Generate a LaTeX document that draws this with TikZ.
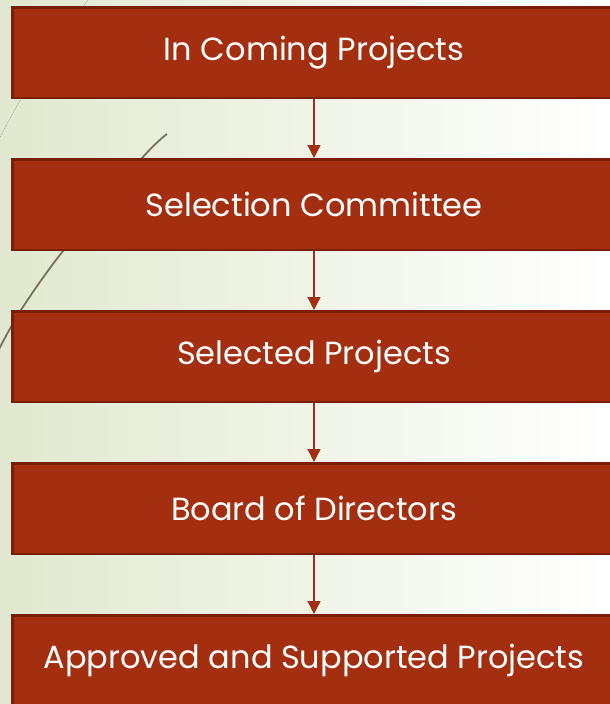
\documentclass[tikz,border=0pt]{standalone}
\usepackage{fontspec}
\setmainfont{Poppins}
\usetikzlibrary{arrows.meta}
\definecolor{rust}{HTML}{A42F10}
\definecolor{rustedge}{HTML}{7A1E0A}
\definecolor{sage}{HTML}{E0E9CF}
\definecolor{stem}{HTML}{77725F}
\tikzset{
  stage/.style={draw=rustedge, line width=2.5pt, fill=rust, text=white,
    minimum width=603.5pt, minimum height=90.5pt, inner sep=0pt,
    font=\fontsize{32}{38}\selectfont},
  flow/.style={draw=rust, line width=1.2pt, -{Triangle[width=13pt,length=13pt]}}
}
\begin{document}
\begin{tikzpicture}[x=1pt,y=-1pt]
      \useasboundingbox (0,0) rectangle (610,704);
      \clip (0,0) rectangle (610,704);
      \shade[left color=sage, right color=white] (0,0) rectangle (610,704);
      % lines behind the boxes
      \draw[gray!70, line width=0.8pt, densely dotted]
        plot[smooth] coordinates {(92,-6) (55,48) (21,99) (-2,141)};
      \draw[stem, line width=1.8pt]
        plot[smooth] coordinates {(167,134) (143,157) (63,251) (21,310) (-2,351)};
      \draw
        (314,52.5) node[stage] (0){In Coming Projects}
        (314,204.5) node[stage] (1){Selection Committee}
        (314,356.5) node[stage] (2){Selected Projects}
        (314,508.5) node[stage] (3){Board of Directors}
        (314,660.5) node[stage] (4){Approved and Supported Projects};
      \begin{scope}[flow]
        \draw (0) to (1);
        \draw (1) to (2);
        \draw (2) to (3);
        \draw (3) to (4);
      \end{scope}
    \end{tikzpicture}
\end{document}
